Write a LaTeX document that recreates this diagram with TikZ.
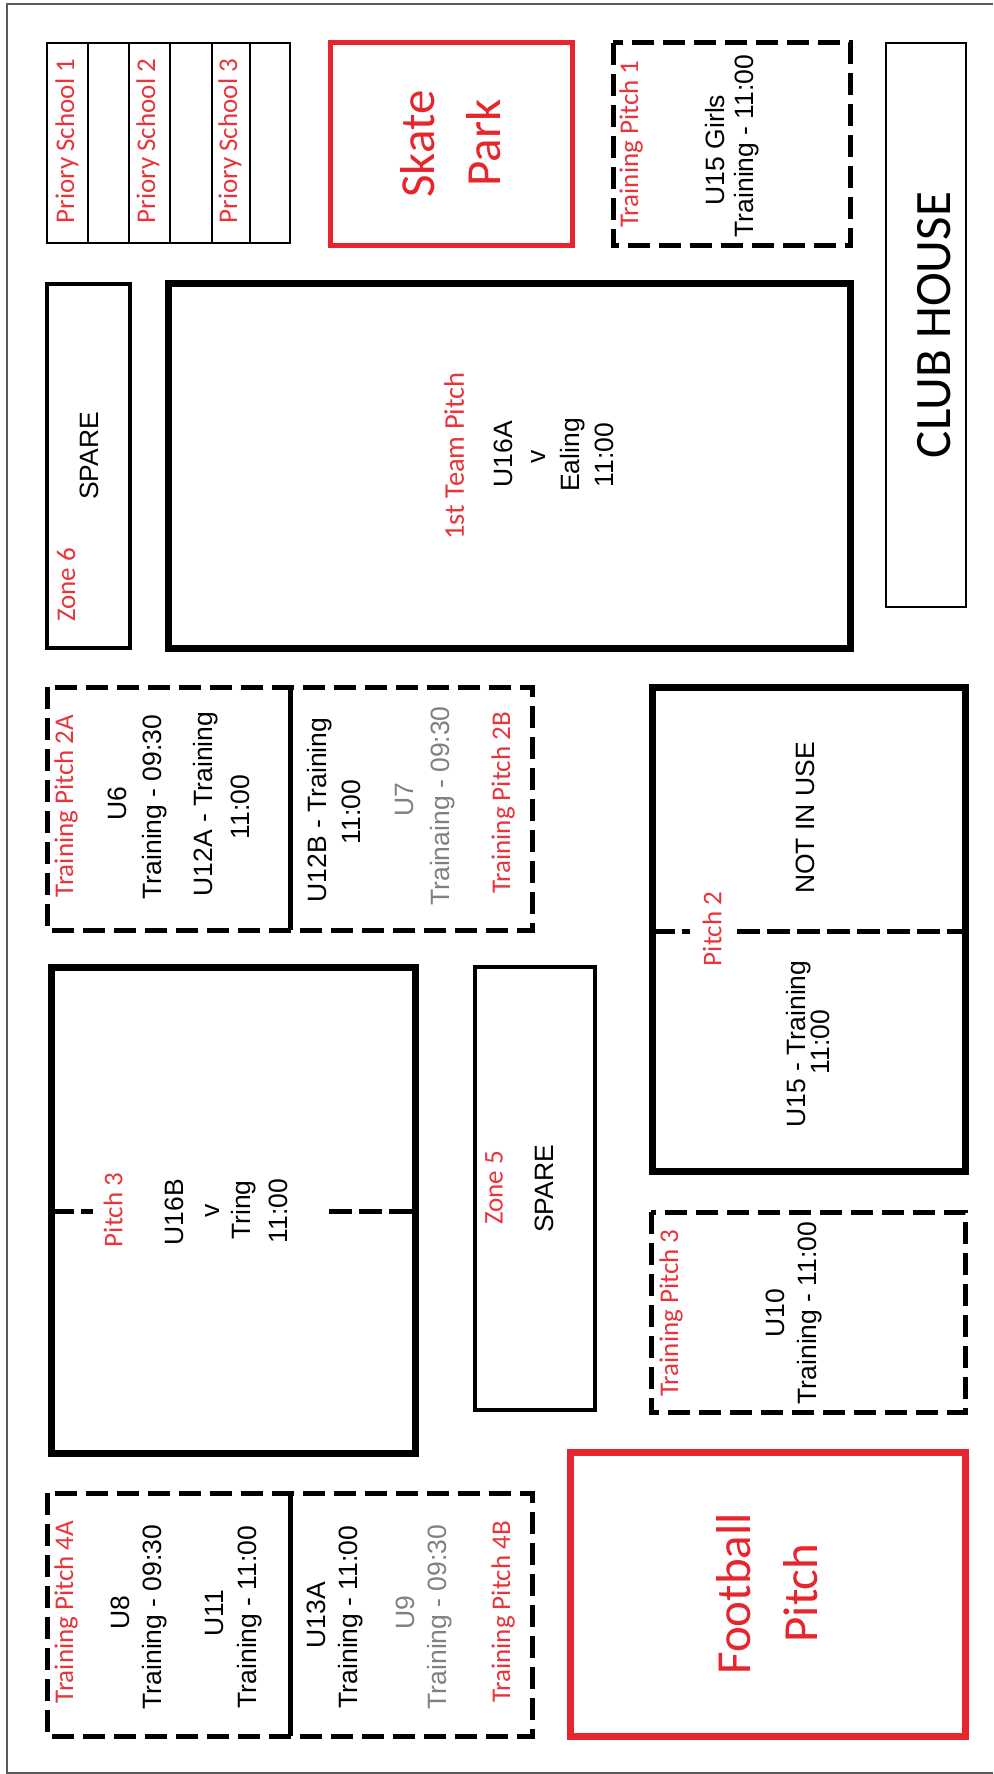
\documentclass[tikz,border=0pt]{standalone}
\usepackage{fontspec}
\setmainfont{Liberation Sans}
\newfontfamily\calfont{Carlito}
\definecolor{mapred}{RGB}{230,38,44}
\definecolor{lblred}{RGB}{232,52,58}
\definecolor{txtgrey}{RGB}{128,128,128}
\begin{document}
\begin{tikzpicture}[x=1pt,y=-1pt,
 lbl/.style={rotate=90,inner sep=0pt,text=lblred,font=\calfont\fontsize{27}{27}\selectfont},
 txt/.style={rotate=90,inner sep=0pt,text=black,font=\fontsize{26.5}{26.5}\selectfont},
 gtxt/.style={txt,text=txtgrey},
 big/.style={rotate=90,inner sep=0pt,text=mapred,font=\calfont\fontsize{49}{49}\selectfont},
 clubtxt/.style={rotate=90,inner sep=0pt,text=black,font=\calfont\fontsize{51}{51}\selectfont},
 thinbox/.style={draw=black,line width=2.5pt},
 midbox/.style={draw=black,line width=4.5pt},
 thickbox/.style={draw=black,line width=7pt},
 redbox/.style={draw=mapred,line width=5pt},
 bigredbox/.style={draw=mapred,line width=7pt},
 dashbox/.style={draw=black,line width=5pt,dash pattern=on 22pt off 9pt},
 halfline/.style={draw=black,line width=5pt,dash pattern=on 23pt off 7pt},
 divider/.style={draw=black,line width=5pt},
 border/.style={draw=black!65,line width=2pt}]
\useasboundingbox (0,0) rectangle (993,1774);
\fill[white] (0,0) rectangle (993,1774);
\draw[border] (993,4) -- (7,4) -- (7,1773) -- (993,1773);

% Priory School
\draw[thinbox] (47,43) rectangle (290,243);
\foreach \xx in {88,129,170,212,250} \draw[thinbox] (\xx,43) -- (\xx,243);
\node[lbl] (ps1) at (67,141) {Priory School 1};
\node[lbl] (ps2) at (148,141) {Priory School 2};
\node[lbl] (ps3) at (230,141) {Priory School 3};

% Skate Park
\draw[redbox] (330,43) rectangle (572,245);
\node[big] (skate) at (418,144) {Skate};
\node[big] (park) at (484,143) {Park};

% Training Pitch 1
\draw[dashbox] (613,43) rectangle (850,245);
\node[lbl] (tp1) at (631,144) {Training Pitch 1};
\node[txt] (tp1a) at (715,150) {U15 Girls};
\node[txt] (tp1b) at (747,146) {Training - 11:00};

% Club House
\draw[thinbox] (886,43) rectangle (966,607);
\node[clubtxt] (club) at (934,325) {CLUB HOUSE};

% Zone 6
\draw[midbox] (47,284) rectangle (130,648);
\node[lbl] (z6) at (66,585) {Zone 6};
\node[txt] (z6s) at (89,456) {SPARE};

% 1st Team Pitch
\draw[thickbox] (168,283) rectangle (850,648);
\node[lbl,font=\calfont\fontsize{28.5}{28.5}\selectfont] (ftp) at (454,456) {1st Team Pitch};
\node[txt] (ftpa) at (503,454) {U16A};
\node[txt] (ftpb) at (538,457) {v};
\node[txt] (ftpc) at (573,455) {Ealing};
\node[txt] (ftpd) at (604,455) {11:00};

% Training Pitch 2A / 2B
\draw[dashbox] (47,687) rectangle (532,930);
\draw[divider] (290,687) -- (290,930);
\node[lbl] (tp2a) at (66,806) {Training Pitch 2A};
\node[txt] (tp2a1) at (117,804) {U6};
\node[txt] (tp2a2) at (155,807) {Training - 09:30};
\node[txt] (tp2a3) at (206,804) {U12A - Training};
\node[txt] (tp2a4) at (240,807) {11:00};
\node[txt] (tp2b1) at (320,810) {U12B - Training};
\node[txt] (tp2b2) at (351,812) {11:00};
\node[gtxt] (tp2b3) at (405,800) {U7};
\node[gtxt] (tp2b4) at (443,806) {Trainaing - 09:30};
\node[lbl] (tp2b) at (503,803) {Training Pitch 2B};

% Pitch 2
\draw[thickbox] (652,687) rectangle (965,1171);
\draw[halfline] (652,931) -- (690,931);
\draw[halfline] (737,931) -- (965,931);
\node[lbl] (p2) at (712,929) {Pitch 2};
\node[txt] (p2a) at (805,818) {NOT IN USE};
\node[txt] (p2b) at (799,1044) {U15 - Training};
\node[txt] (p2c) at (820,1042) {11:00};

% Pitch 3
\draw[thickbox] (51,967) rectangle (415,1453);
\draw[halfline] (51,1211) -- (93,1211);
\draw[halfline] (329,1211) -- (415,1211);
\node[lbl] (p3) at (113,1210) {Pitch 3};
\node[txt] (p3a) at (174,1212) {U16B};
\node[txt] (p3b) at (212,1211) {v};
\node[txt] (p3c) at (244,1210) {Tring};
\node[txt] (p3d) at (278,1211) {11:00};

% Zone 5
\draw[midbox] (475,967) rectangle (595,1410);
\node[lbl] (z5) at (494,1188) {Zone 5};
\node[txt] (z5s) at (544,1189) {SPARE};

% Training Pitch 3
\draw[dashbox] (651,1212) rectangle (965,1412);
\node[lbl] (tp3) at (671,1313) {Training Pitch 3};
\node[txt] (tp3a) at (775,1313) {U10};
\node[txt] (tp3b) at (810,1313) {Training - 11:00};

% Football Pitch
\draw[bigredbox] (570,1452) rectangle (965,1736);
\node[big] (fb1) at (734,1594) {Football};
\node[big] (fb2) at (801,1593) {Pitch};

% Training Pitch 4A / 4B
\draw[dashbox] (47,1493) rectangle (532,1736);
\draw[divider] (290,1493) -- (290,1736);
\node[lbl] (tp4a) at (66,1612) {Training Pitch 4A};
\node[txt] (tp4a1) at (120,1613) {U8};
\node[txt] (tp4a2) at (155,1617) {Training - 09:30};
\node[txt] (tp4a3) at (215,1613) {U11};
\node[txt] (tp4a4) at (250,1617) {Training - 11:00};
\node[txt] (tp4b1) at (316,1615) {U13A};
\node[txt] (tp4b2) at (351,1617) {Training - 11:00};
\node[gtxt] (tp4b3) at (405,1613) {U9};
\node[gtxt] (tp4b4) at (440,1617) {Training - 09:30};
\node[lbl] (tp4b) at (503,1612) {Training Pitch 4B};
\end{tikzpicture}
\end{document}
